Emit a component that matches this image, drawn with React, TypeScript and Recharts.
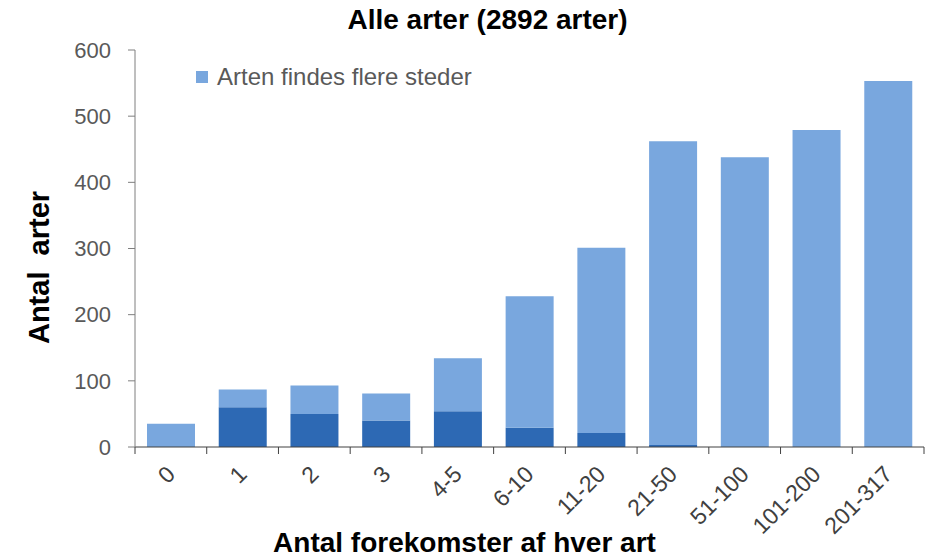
import React from 'react';
import { BarChart, Bar, XAxis, YAxis, Label } from 'recharts';

const categories = ['0', '1', '2', '3', '4-5', '6-10', '11-20', '21-50', '51-100', '101-200', '201-317'];
const singleSite = [0, 60, 50, 40, 54, 29, 21, 3, 0, 0, 0];
const severalSites = [35, 27, 43, 41, 80, 199, 280, 459, 438, 479, 553];
const yTicks = [0, 100, 200, 300, 400, 500, 600];

const data = categories.map((c, i) => ({ cat: c, single: singleSite[i], several: severalSites[i] }));

const FONT = '"Liberation Sans", Arial, sans-serif';
const LIGHT = '#79a7de';
const DARK = '#2d69b4';
const AXIS = '#7f7f7f';
const TEXT = '#595959';
const XTEXT = '#404040';

const XTick = (props: any) => {
  const { x, y, payload, index } = props;
  const half = payload && typeof payload.offset === 'number' && payload.offset > 0 ? payload.offset : 0;
  const ax = x;
  const ay = y + 23;
  const isLast = index === categories.length - 1;
  return (
    <g>
      {half > 0 && <line x1={x - half} y1={y} x2={x - half} y2={y + 7} stroke={XTEXT} strokeWidth={1} />}
      {half > 0 && isLast && <line x1={x + half} y1={y} x2={x + half} y2={y + 7} stroke={XTEXT} strokeWidth={1} />}
      <text
        x={ax}
        y={ay}
        textAnchor="end"
        dominantBaseline="central"
        transform={`rotate(-45 ${ax} ${ay})`}
        fontFamily={FONT}
        fontSize={23}
        fill={XTEXT}
      >
        {payload.value}
      </text>
    </g>
  );
};

export default function App() {
  return (
    <div style={{ position: 'absolute', left: 0, top: 0, width: 935, height: 558, background: '#fff' }}>
      <div
        style={{
          position: 'absolute', left: 0, top: 4, width: 975, textAlign: 'center',
          fontFamily: FONT, fontWeight: 'bold', fontSize: 28, color: '#000',
        }}
      >
        Alle arter (2892 arter)
      </div>
      <div
        style={{
          position: 'absolute', left: 196, top: 63, display: 'flex', alignItems: 'center',
          fontFamily: FONT, fontSize: 24, color: TEXT,
        }}
      >
        <span style={{ display: 'inline-block', width: 12, height: 12, background: LIGHT, marginRight: 9 }} />
        Arten findes flere steder
      </div>
      <BarChart
        width={935}
        height={558}
        data={data}
        margin={{ top: 50, right: 11, bottom: 0, left: 0 }}
        style={{ position: 'absolute', left: 0, top: 0 }}
      >
        <XAxis
          dataKey="cat"
          interval={0}
          height={111}
          tickLine={false}
          tickSize={0}
          tickMargin={0}
          tick={<XTick />}
          axisLine={{ stroke: XTEXT }}
        >
          <Label
            value="Antal forekomster af hver art"
            position="insideBottom"
            offset={6}
            dx={-65}
            style={{ fontFamily: FONT, fontWeight: 'bold', fontSize: 28, fill: '#000' }}
          />
        </XAxis>
        <YAxis
          width={135}
          domain={[0, 600]}
          ticks={yTicks}
          interval={0}
          tickSize={7}
          tickMargin={17}
          tickLine={{ stroke: AXIS }}
          axisLine={{ stroke: AXIS }}
          tick={{ fontFamily: FONT, fontSize: 22, fill: TEXT }}
        >
          <Label
            value={'Antal\u00A0 arter'}
            angle={-90}
            position="insideLeft"
            offset={39}
            dy={19}
            style={{ fontFamily: FONT, fontWeight: 'bold', fontSize: 29, fill: '#000', textAnchor: 'middle' }}
          />
        </YAxis>
        <Bar dataKey="single" name="Arten findes kun ét sted" stackId="a" fill={DARK} barSize={48} isAnimationActive={false} />
        <Bar dataKey="several" name="Arten findes flere steder" stackId="a" fill={LIGHT} barSize={48} isAnimationActive={false} />
      </BarChart>
    </div>
  );
}
